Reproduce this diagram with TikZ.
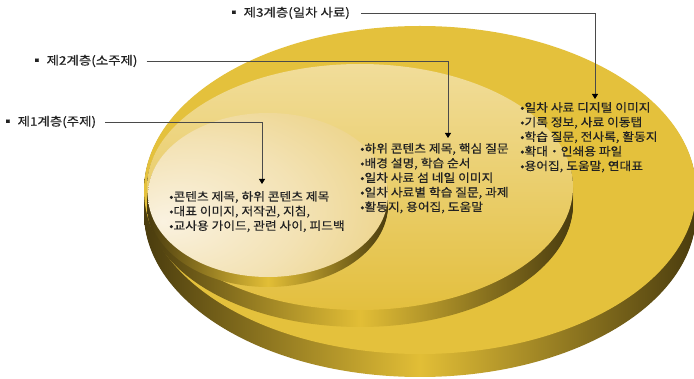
\documentclass[tikz,border=0pt]{standalone}
\usepackage{fontspec}
\setmainfont{Noto Sans CJK KR}
\newfontfamily\labfont[FakeStretch=1.14,FakeBold=0.4]{Noto Sans CJK KR}
\newfontfamily\txtfont[FakeStretch=1.1,FakeBold=0.4]{Noto Sans CJK KR}
\usetikzlibrary{arrows.meta}
\definecolor{goldface}{HTML}{E4C13C}
\definecolor{sidedark}{HTML}{4A3C0E}
\definecolor{sidemid}{HTML}{E2BE36}
\definecolor{midtop}{HTML}{F1DD9A}
\definecolor{midmid}{HTML}{EDD27E}
\definecolor{midbot}{HTML}{E3BF3E}
\definecolor{innc}{HTML}{FAF2E0}
\definecolor{innm}{HTML}{F3E2B4}
\definecolor{inno}{HTML}{E6C55E}
\definecolor{txtcol}{HTML}{222222}
\definecolor{linecol}{HTML}{4A4A4A}
\pgfdeclareradialshading{innerface}{\pgfpoint{-22bp}{-8bp}}{color(0bp)=(innc); color(22bp)=(innm); color(55bp)=(inno); color(70bp)=(inno)}
\newcommand\mydisk[7]{%
  \foreach \s in {#5,...,1}{%
    \shade[#6] (#1,{#2+\s}) ellipse[x radius=#3pt,y radius=#4pt];}%
  \path[#7] (#1,#2) ellipse[x radius=#3pt,y radius=#4pt];}
\tikzset{
  sideshade/.style={left color=sidedark,right color=sidedark,middle color=sidemid},
  txt/.style={text=txtcol,align=left,inner sep=0pt,anchor=north west,
    font=\txtfont\fontsize{11.6}{14.6}\selectfont},
  lab/.style={text=txtcol,inner sep=0pt,anchor=west,font=\labfont\fontsize{11.8}{13}\selectfont},
  conn/.style={draw=linecol,line width=0.9pt,-{Triangle[width=6pt,length=5pt,color=black]}}
}
\begin{document}
\begin{tikzpicture}[x=1pt,y=-1pt]
\useasboundingbox (0,0) rectangle (694,379);
\fill[white] (0,0) rectangle (694,379);
% outer disk (layer 3)
\mydisk{420}{190}{276}{164}{23}{sideshade}{fill=goldface}
% middle disk (layer 2)
\mydisk{360}{187}{213}{123}{17}{sideshade}{top color=midtop,middle color=midmid,bottom color=midbot}
% inner disk (layer 1)
\mydisk{268}{195}{120}{82}{10}{sideshade}{shade,shading=innerface}
% texts
\node[txt] (t1) at (169,191) {•콘텐츠 제목, 하위 콘텐츠 제목\\•대표 이미지, 저작권, 지침,\\•교사용 가이드, 관련 사이, 피드백};
\node[txt] (t2) at (360,143) {•하위 콘텐츠 제목, 핵심 질문\\•배경 설명, 학습 순서\\•일차 사료 섬 네일 이미지\\•일차 사료별 학습 질문, 과제\\•활동지, 용어집, 도움말};
\node[txt] (t3) at (520,102) {•일차 사료 디지털 이미지\\•기록 정보, 사료 이동탭\\•학습 질문, 전사록, 활동지\\•확대・인쇄용 파일\\•용어집, 도움말, 연대표};
% labels
\node[lab] (L3) at (227,13) {▪ 제3계층(일차 사료)};
\node[lab] (L2) at (30,61) {▪ 제2계층(소주제)};
\node[lab] (L1) at (1,122) {▪ 제1계층(주제)};
\coordinate (a3) at (595,99);
\coordinate (a2) at (448,138);
\coordinate (a1) at (262,184);
\draw[conn] ([xshift=11pt]L3.east) -| (a3);
\draw[conn] ([xshift=9pt]L2.east) -| (a2);
\draw[conn] ([xshift=9pt]L1.east) -| (a1);
\end{tikzpicture}
\end{document}
